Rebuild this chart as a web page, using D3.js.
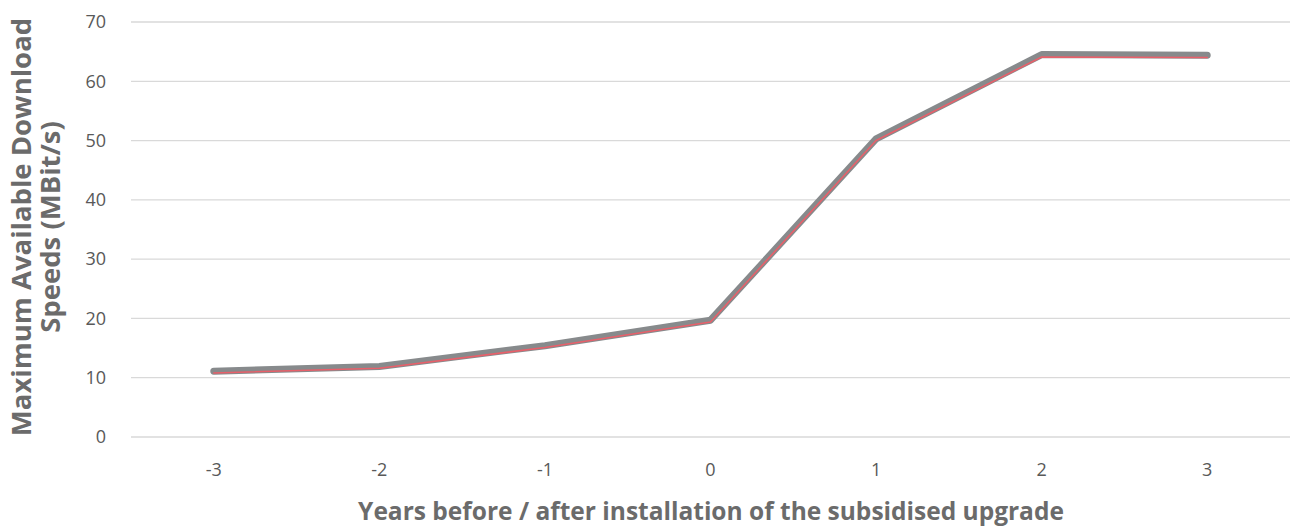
<!DOCTYPE html>
<html>
<head>
<meta charset="utf-8">
<script src="https://cdn.jsdelivr.net/npm/d3@7"></script>
<style>
html,body{margin:0;padding:0;background:#fff;}
svg{display:block;font-family:"Open Sans","Noto Sans",sans-serif;}
</style>
</head>
<body>
<svg id="chart" width="1290" height="529"></svg>
<script>
const categories = ["-3","-2","-1","0","1","2","3"];
const grayValues = [11.1, 11.9, 15.4, 19.7, 50.3, 64.5, 64.4];
const redValues  = [10.8, 11.6, 15.1, 19.4, 50.0, 64.1, 64.0];
const yTicks = [0,10,20,30,40,50,60,70];
const xTitle = "Years before / after installation of the subsidised upgrade";
const yTitleLines = ["Maximum Available Download","Speeds (MBit/s)"];

const svg = d3.select("#chart");
const plotLeft = 131, plotRight = 1290, plotTop = 22, plotBottom = 437;

const x = d3.scaleBand().domain(categories).range([plotLeft, plotRight]);
const y = d3.scaleLinear().domain([0,70]).range([plotBottom, plotTop]);

// gridlines
svg.append("g").selectAll("line").data(yTicks).join("line")
  .attr("x1", plotLeft).attr("x2", plotRight)
  .attr("y1", d => y(d)).attr("y2", d => y(d))
  .attr("stroke", "#d9d9d9").attr("stroke-width", 1.3);

// y tick labels
svg.append("g").selectAll("text").data(yTicks).join("text")
  .attr("x", 106).attr("y", d => y(d)).attr("dy", "0.35em")
  .attr("text-anchor", "end").attr("font-size", 18).attr("fill", "#595959")
  .text(d => d);

// x tick labels
svg.append("g").selectAll("text").data(categories).join("text")
  .attr("x", d => x(d) + x.bandwidth()/2).attr("y", 470).attr("dy", "0.35em")
  .attr("text-anchor", "middle").attr("font-size", 18).attr("fill", "#595959")
  .text(d => d);

const line = d3.line()
  .x((d,i) => x(categories[i]) + x.bandwidth()/2)
  .y(d => y(d));

svg.append("path").datum(grayValues).attr("d", line)
  .attr("fill", "none").attr("stroke", "#878a8c").attr("stroke-width", 7)
  .attr("stroke-linejoin", "round").attr("stroke-linecap", "round");

svg.append("path").datum(redValues).attr("d", line)
  .attr("fill", "none").attr("stroke", "#e8606a").attr("stroke-width", 1.6)
  .attr("stroke-linejoin", "round").attr("stroke-linecap", "round");

// x axis title
svg.append("text").attr("x", 711).attr("y", 520)
  .attr("text-anchor", "middle").attr("font-size", 24.5).attr("font-weight", "bold")
  .attr("fill", "#6b6b6b").text(xTitle);

// y axis title
const yt = svg.append("text")
  .attr("transform", "translate(21,227) rotate(-90)")
  .attr("text-anchor", "middle").attr("font-size", 27.5).attr("font-weight", "bold")
  .attr("fill", "#6b6b6b");
yTitleLines.forEach((t,i) => {
  yt.append("tspan").attr("x", 0).attr("y", i*29).attr("dy", "0.35em").text(t);
});
</script>
</body>
</html>
